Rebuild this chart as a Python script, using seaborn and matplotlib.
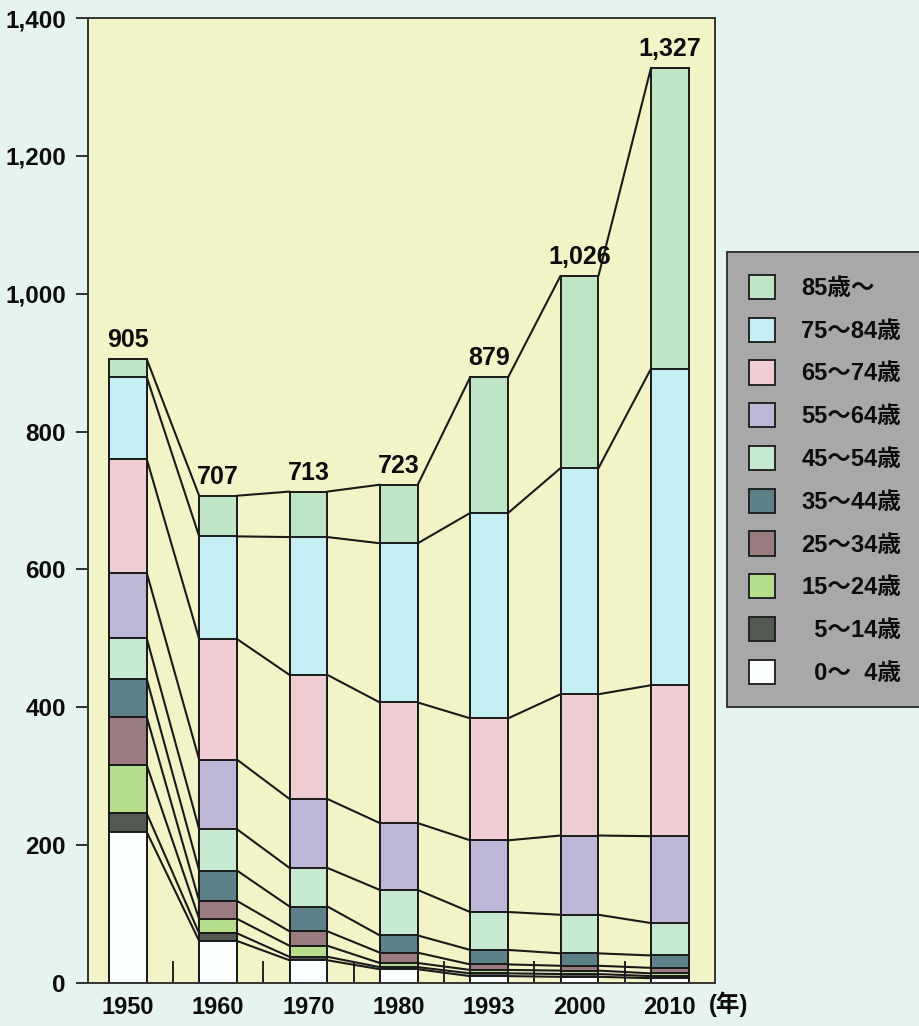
import numpy as np
import matplotlib.pyplot as plt
import matplotlib.ticker as mticker
from matplotlib.patches import Patch
import seaborn as sns

# 年次と総数
years = ['1950', '1960', '1970', '1980', '1993', '2000', '2010']
totals = [905, 707, 713, 723, 879, 1026, 1327]

# 年齢階級（下から上へ）
age_groups = ['0～ 4歳', '5～14歳', '15～24歳', '25～34歳', '35～44歳',
              '45～54歳', '55～64歳', '65～74歳', '75～84歳', '85歳～']
legend_labels = ['  0～  4歳', '  5～14歳', '15～24歳', '25～34歳', '35～44歳',
                 '45～54歳', '55～64歳', '65～74歳', '75～84歳', '85歳～']

v_0_4 = [219, 61, 33, 20, 10, 9, 7]
v_5_14 = [27, 11, 5, 3, 4, 4, 3]
v_15_24 = [70, 21, 16, 6, 5, 5, 4]
v_25_34 = [70, 26, 21, 15, 8, 7, 8]
v_35_44 = [55, 44, 36, 25, 21, 18, 18]
v_45_54 = [59, 60, 56, 66, 55, 56, 47]
v_55_64 = [95, 101, 100, 97, 104, 115, 126]
v_65_74 = [165, 175, 180, 175, 177, 205, 219]
v_75_84 = [119, 149, 200, 231, 298, 328, 459]
v_85 = [26, 59, 66, 85, 197, 279, 436]

colors = ['#fbffff', '#525a52', '#b4de8c', '#9a7c80', '#5e8088',
          '#c6ead0', '#bdb6d6', '#efcdd3', '#c4eef4', '#bfe6c4']

layers = np.array([v_0_4, v_5_14, v_15_24, v_25_34, v_35_44,
                   v_45_54, v_55_64, v_65_74, v_75_84, v_85])
cum = np.cumsum(layers, axis=0)

sns.set_theme(style='ticks')
plt.rcParams['font.family'] = ['Liberation Sans', 'Noto Sans CJK JP', 'DejaVu Sans']
plt.rcParams['font.weight'] = 'bold'
plt.rcParams['text.color'] = '#0d0d0d'
plt.rcParams['xtick.color'] = '#222'
plt.rcParams['ytick.color'] = '#222'
plt.rcParams['xtick.labelcolor'] = '#0d0d0d'
plt.rcParams['ytick.labelcolor'] = '#0d0d0d'

fig = plt.figure(figsize=(9.2, 10.26), dpi=100, facecolor='#e6f4f0')
ax = fig.add_axes([0.0957, 0.0419, 0.6815, 0.9405])
ax.set_facecolor('#f2f4c8')

w = 0.42
edge = '#1a1a1a'

# 積み上げ：上の累積から順に描いて下の層で上書き
for k in range(len(layers) - 1, -1, -1):
    sns.barplot(x=years, y=cum[k], color=colors[k], width=w, saturation=1,
                edgecolor=edge, linewidth=1.4, ax=ax, zorder=2)

# 層の境界をつなぐ線
for k in range(len(layers)):
    for i in range(len(years) - 1):
        ax.plot([i + w / 2, i + 1 - w / 2], [cum[k][i], cum[k][i + 1]],
                color=edge, lw=1.5, zorder=3)

# 総数ラベル
for i, t in enumerate(totals):
    ax.text(i, cum[-1][i] + 10, f'{t:,}', ha='center', va='bottom',
            fontsize=18, fontweight='bold')

ax.set_xlim(-0.44, 6.5)
ax.set_ylim(0, 1400)
ax.set_yticks(range(0, 1401, 200))
ax.yaxis.set_major_formatter(mticker.FuncFormatter(lambda v, p: f'{v:,.0f}'))
ax.set_xlabel('')
ax.set_ylabel('')

ax.tick_params(axis='y', direction='out', length=9, width=1.3, labelsize=17.5,
               pad=7)
ax.tick_params(axis='x', which='major', length=0, labelsize=17, pad=9)
ax.set_xticks(np.arange(0.5, 6, 1), minor=True)
ax.tick_params(axis='x', which='minor', direction='in', length=16, width=1.4)
for lbl in ax.get_xticklabels() + ax.get_yticklabels():
    lbl.set_fontweight('bold')

for s in ax.spines.values():
    s.set_color('#333')
    s.set_linewidth(1.4)

fig.text(0.771, 0.0215, '(年)', ha='left', va='center', fontsize=17,
         fontweight='bold')

handles = [Patch(facecolor=colors[k], edgecolor=edge, linewidth=1.3)
           for k in range(len(layers) - 1, -1, -1)]
labels = legend_labels[::-1]
leg = fig.legend(handles, labels, loc='upper left',
                 bbox_to_anchor=(0.79, 0.754), frameon=True, fancybox=False,
                 facecolor='#a8a8a8', edgecolor='#333', framealpha=1,
                 fontsize=17, handlelength=1.1, handleheight=1.2,
                 labelspacing=0.75, borderpad=0.95, handletextpad=1.1,
                 borderaxespad=0)
leg.get_frame().set_linewidth(1.4)
for t in leg.get_texts():
    t.set_fontweight('bold')
    t.set_color('#0d0d0d')

fig.savefig('out.png', dpi=100, facecolor=fig.get_facecolor())
